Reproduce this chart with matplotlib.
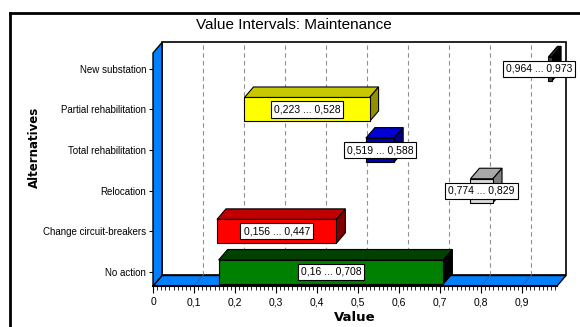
import matplotlib
matplotlib.use("Agg")
import matplotlib.pyplot as plt
from matplotlib.patches import Polygon, Rectangle
from matplotlib.lines import Line2D
from matplotlib import font_manager as fm

names = {f.name for f in fm.fontManager.ttflist}
base = 'Liberation Sans Narrow' if 'Liberation Sans Narrow' in names else 'Liberation Sans'
plt.rcParams['font.family'] = [base, 'DejaVu Sans']

# ---- data ----
categories = ["No action", "Change circuit-breakers", "Relocation",
              "Total rehabilitation", "Partial rehabilitation", "New substation"]
low = [0.16, 0.156, 0.774, 0.519, 0.223, 0.964]
high = [0.708, 0.447, 0.829, 0.588, 0.528, 0.973]
labels = ["0,16 ... 0,708", "0,156 ... 0,447", "0,774 ... 0,829",
          "0,519 ... 0,588", "0,223 ... 0,528", "0,964 ... 0,973"]
xticks = [0, 0.1, 0.2, 0.3, 0.4, 0.5, 0.6, 0.7, 0.8, 0.9]
xticklabels = ["0", "0,1", "0,2", "0,3", "0,4", "0,5", "0,6", "0,7", "0,8", "0,9"]

front_c = ["#008000", "#ff0000", "#d8d8d8", "#0000b4", "#ffff00", "#404040"]
top_c = ["#004000", "#c00000", "#a8a8a8", "#0000d0", "#c8c800", "#202020"]
side_c = ["#000000", "#800000", "#808080", "#000080", "#909000", "#000000"]
wall = "#0080ff"

W, H = 580, 327
fig = plt.figure(figsize=(W / 100, H / 100), dpi=100)
fig.patch.set_facecolor("white")

L, R, T, B = 153, 557, 53, 286
ax = fig.add_axes([L / W, (H - B) / H, (R - L) / W, (B - T) / H])
xmax = 0.985
yf = -0.345
ytop = 5.39
ax.set_xlim(0, xmax)
ax.set_ylim(yf, ytop)
for s in ax.spines.values():
    s.set_visible(False)
ax.set_facecolor("none")

dx = 9 / 410
dy = 10.5 / 40.6
h = 0.295

# back wall
ax.add_patch(Rectangle((dx, yf + dy), xmax, ytop - yf, facecolor="white",
                       edgecolor="black", lw=1.2, clip_on=False, zorder=1))
# gridlines on back wall and floor
for v in xticks[1:]:
    ax.add_line(Line2D([v + dx, v + dx], [yf + dy, ytop + dy], color="#909090",
                       lw=0.8, ls=(0, (4, 3)), clip_on=False, zorder=2))
# floor
ax.add_patch(Polygon([(0, yf), (xmax, yf), (xmax + dx, yf + dy), (dx, yf + dy)],
                     closed=True, facecolor=wall, edgecolor="black", lw=1.0,
                     clip_on=False, zorder=3))
for v in xticks[1:]:
    ax.add_line(Line2D([v, v + dx], [yf, yf + dy], color="#3060a0",
                       lw=0.7, clip_on=False, zorder=3.5))
# left wall
ax.add_patch(Polygon([(0, yf), (0, ytop), (dx, ytop + dy), (dx, yf + dy)],
                     closed=True, facecolor=wall, edgecolor="black", lw=1.0,
                     clip_on=False, zorder=3))
ax.add_line(Line2D([0, xmax], [yf, yf], color="black", lw=1.5, clip_on=False, zorder=4))

# bars
for i, (lo, hi) in enumerate(zip(low, high)):
    c = i
    z = 5
    ax.add_patch(Polygon([(lo, c + h), (hi, c + h), (hi + dx, c + h + dy), (lo + dx, c + h + dy)],
                         closed=True, facecolor=top_c[i], edgecolor="black", lw=0.8,
                         clip_on=False, zorder=z))
    ax.add_patch(Polygon([(hi, c - h), (hi, c + h), (hi + dx, c + h + dy), (hi + dx, c - h + dy)],
                         closed=True, facecolor=side_c[i], edgecolor="black", lw=0.8,
                         clip_on=False, zorder=z))
    ax.add_patch(Rectangle((lo, c - h), hi - lo, 2 * h, facecolor=front_c[i],
                           edgecolor="black", lw=0.8, clip_on=False, zorder=z))
    shift = -8 if hi > 0.95 else 0
    ax.annotate(labels[i], xy=((lo + hi) / 2, c), xytext=(shift, 0),
                textcoords="offset points", ha="center", va="center", fontsize=7.5,
                zorder=10, annotation_clip=False,
                bbox=dict(boxstyle="square,pad=0.3", facecolor="white", edgecolor="black", lw=0.8))

ax.set_yticks(range(len(categories)))
ax.set_yticklabels(categories, fontsize=7)
ax.set_xticks(xticks)
ax.set_xticklabels(xticklabels, fontsize=7.5)
ax.set_xticks([i / 100 for i in range(0, 99)], minor=True)
ax.tick_params(axis="x", which="major", length=5, width=0.8, pad=3)
ax.tick_params(axis="x", which="minor", length=3, width=0.6)
ax.tick_params(axis="y", length=3, width=0.8, pad=2)

ax.set_xlabel("Value", fontsize=9.5, fontweight="bold", family=["DejaVu Sans"], labelpad=3)
fig.text(34 / W, 1 - 147 / H, "Alternatives", rotation=90, ha="center", va="center",
         fontsize=8.5, fontweight="bold", family=["DejaVu Sans"])
fig.text(294 / W, 1 - 25 / H, "Value Intervals: Maintenance", ha="center", va="center",
         fontsize=11)

# outer frame
fig.add_artist(Line2D([9.5 / W, 9.5 / W], [0, 1 - 12.5 / H], color="black", lw=2,
                      transform=fig.transFigure))
fig.add_artist(Line2D([9.5 / W, 1], [1 - 12.5 / H, 1 - 12.5 / H], color="black", lw=2,
                      transform=fig.transFigure))

fig.savefig("out.png", dpi=100)
